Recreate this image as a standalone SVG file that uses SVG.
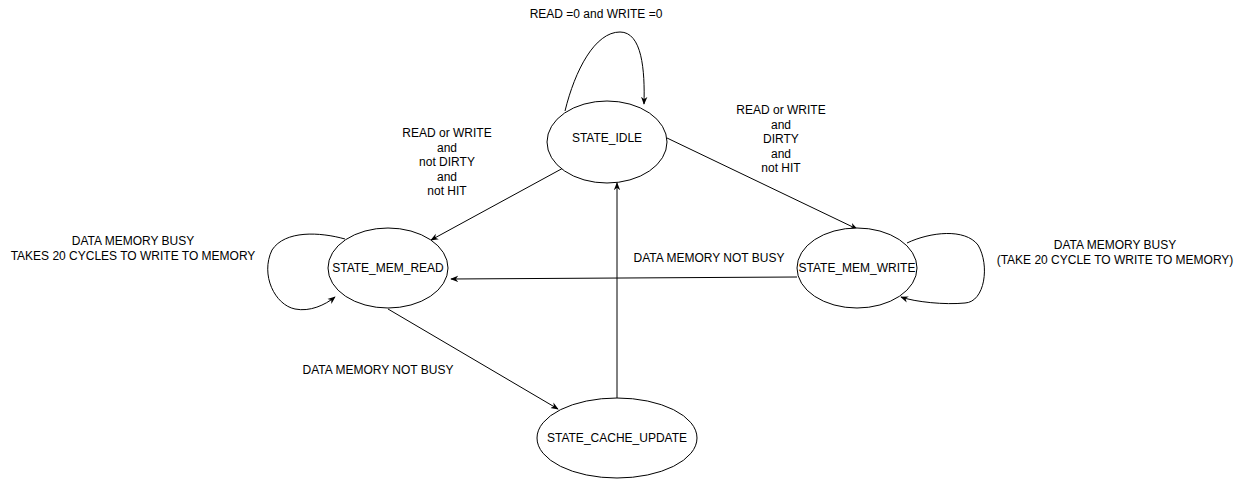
<svg xmlns="http://www.w3.org/2000/svg" width="1241" height="479" viewBox="0 0 1241 479">
<style>
.node ellipse{fill:#fff;stroke:#000;stroke-width:1}
.node text{font-family:"Liberation Sans",Arial,sans-serif;font-size:12px;fill:#000;text-anchor:middle;dominant-baseline:central}
.lbl{font-family:"Liberation Sans",Arial,sans-serif;font-size:12px;fill:#000;text-anchor:middle;dominant-baseline:central}
.edge{fill:none;stroke:#000;stroke-width:1;marker-end:url(#arr)}
</style>
<defs>
<marker id="arr" viewBox="0 0 10 10" refX="9" refY="5" markerWidth="8" markerHeight="8" orient="auto" markerUnits="userSpaceOnUse">
<path d="M0,1 L10,5 L0,9 L3,5 Z" fill="#000"/>
</marker>
</defs>
<rect width="1241" height="479" fill="#fff"/>
<g id="connectors">
<path class="edge" d="M565,111 C575,70 595,32 620,32 C642,32 645,70 644,104"/>
<path class="edge" d="M565,167 L431,240"/>
<path class="edge" d="M667,138 L857,229"/>
<path class="edge" d="M797,277 L451,279"/>
<path class="edge" d="M388,309 L558,409"/>
<path class="edge" d="M617,398 L617,183"/>
<path class="edge" d="M345,239 C320,232 285,230 272,250 C260,275 275,305 295,309 C310,312 325,305 335,297"/>
<path class="edge" d="M907,243 C930,232 965,228 978,245 C990,265 985,302 965,303 C945,305 915,302 901,297"/>
</g>
<g id="labels">
<text class="lbl" x="596" y="14">READ =0 and WRITE =0</text>
<text class="lbl" x="447" y="133">READ or WRITE</text>
<text class="lbl" x="447" y="147.5">and</text>
<text class="lbl" x="447" y="162">not DIRTY</text>
<text class="lbl" x="447" y="176.5">and</text>
<text class="lbl" x="447" y="191">not HIT</text>
<text class="lbl" x="781" y="110">READ or WRITE</text>
<text class="lbl" x="781" y="124.5">and</text>
<text class="lbl" x="781" y="139">DIRTY</text>
<text class="lbl" x="781" y="153.5">and</text>
<text class="lbl" x="781" y="168">not HIT</text>
<text class="lbl" x="133" y="241">DATA MEMORY BUSY</text>
<text class="lbl" x="133" y="256">TAKES 20 CYCLES TO WRITE TO MEMORY</text>
<text class="lbl" x="1115" y="245">DATA MEMORY BUSY</text>
<text class="lbl" x="1115" y="260">(TAKE 20 CYCLE TO WRITE TO MEMORY)</text>
<text class="lbl" x="709" y="258">DATA MEMORY NOT BUSY</text>
<text class="lbl" x="378" y="370">DATA MEMORY NOT BUSY</text>
</g>
<g id="STATE_IDLE" class="node"><ellipse cx="607" cy="142" rx="60" ry="41"/><text x="607" y="138">STATE_IDLE</text></g>
<g id="STATE_MEM_READ" class="node"><ellipse cx="388" cy="268" rx="60" ry="40"/><text x="388" y="268">STATE_MEM_READ</text></g>
<g id="STATE_MEM_WRITE" class="node"><ellipse cx="857" cy="268" rx="60" ry="40"/><text x="857" y="268">STATE_MEM_WRITE</text></g>
<g id="STATE_CACHE_UPDATE" class="node"><ellipse cx="617" cy="438" rx="80" ry="40"/><text x="617" y="438">STATE_CACHE_UPDATE</text></g>
</svg>
